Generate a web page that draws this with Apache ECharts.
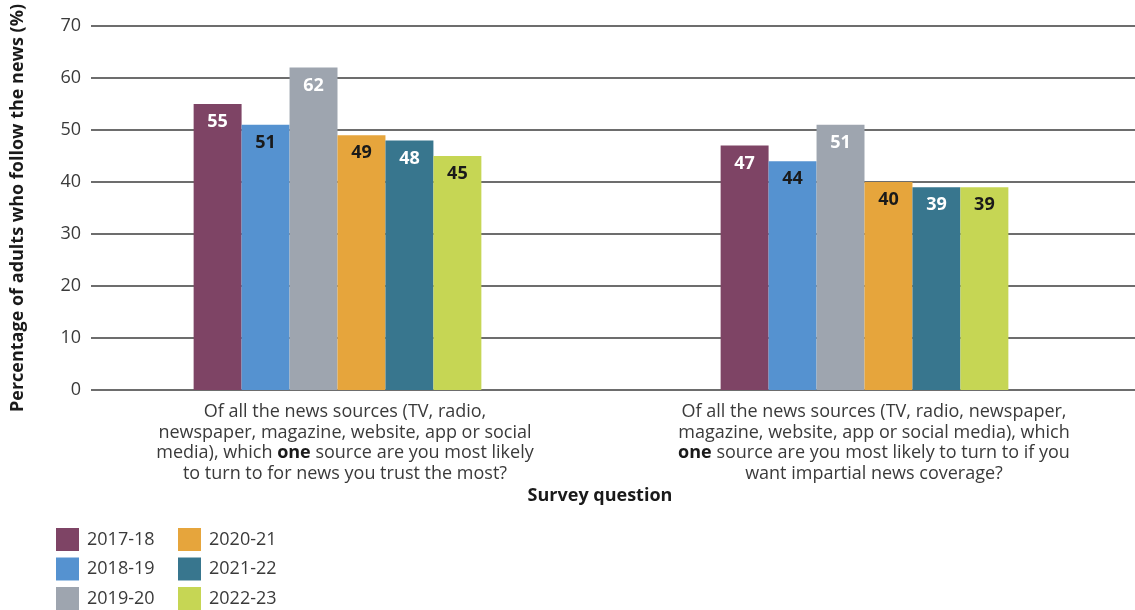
<!DOCTYPE html>
<html>
<head>
<meta charset="utf-8">
<script src="https://cdn.jsdelivr.net/npm/echarts@6/dist/echarts.min.js"></script>
<style>
  html, body { margin: 0; padding: 0; background: #fff; }
  #chart { width: 1135px; height: 610px; }
</style>
</head>
<body>
<div id="chart"></div>
<script>
// Survey questions (x categories), with "one" set in bold via rich text
const categories = [
  'Of all the news sources (TV, radio,\nnewspaper, magazine, website, app or social\nmedia), which {b|one} source are you most likely\nto turn to for news you trust the most?',
  'Of all the news sources (TV, radio, newspaper,\nmagazine, website, app or social media), which\n{b|one} source are you most likely to turn to if you\nwant impartial news coverage?'
];
const years = ['2017-18', '2018-19', '2019-20', '2020-21', '2021-22', '2022-23'];
const values2017 = [55, 47];
const values2018 = [51, 44];
const values2019 = [62, 51];
const values2020 = [49, 40];
const values2021 = [48, 39];
const values2022 = [45, 39];
const yTicks = [0, 10, 20, 30, 40, 50, 60, 70];

const seriesValues = [values2017, values2018, values2019, values2020, values2021, values2022];
const colors = ['#7E4465', '#5592D0', '#9EA5AF', '#E6A53C', '#38768E', '#C6D654'];
const labelColors = ['#ffffff', '#1a1a1a', '#ffffff', '#1a1a1a', '#ffffff', '#1a1a1a'];
const FONT = '"Open Sans", "Noto Sans", sans-serif';

const chart = echarts.init(document.getElementById('chart'), null, { renderer: 'canvas' });

const series = years.map((y, i) => ({
  name: y,
  type: 'bar',
  xAxisIndex: 1,
  yAxisIndex: 1,
  data: seriesValues[i],
  barGap: '0%',
  barCategoryGap: '45.4%',
  itemStyle: { color: colors[i] },
  label: {
    show: true,
    position: 'insideTop',
    distance: 9,
    color: labelColors[i],
    fontFamily: FONT,
    fontWeight: 'bold',
    fontSize: 18
  }
}));

const legendCommon = {
  orient: 'vertical',
  itemWidth: 23,
  itemHeight: 23,
  itemGap: 6.5,
  padding: 0,
  icon: 'rect',
  selectedMode: false,
  textStyle: { fontFamily: FONT, fontSize: 18, color: '#3a3a3a', padding: [0, 0, 0, 3] }
};

// first question label sits a little left of its category centre
const categoryData = categories.map((c, i) => ({
  value: c,
  textStyle: { padding: i === 0 ? [0, 14, 0, 0] : [0, 0, 0, 0] }
}));

chart.setOption({
  animation: false,
  textStyle: { fontFamily: FONT },
  grid: [
    { left: 91, right: 0, top: 26, bottom: 220 },
    { left: 74, right: 7, top: 26, bottom: 220 }
  ],
  legend: [
    Object.assign({ left: 56, top: 528, data: years.slice(0, 3) }, legendCommon),
    Object.assign({ left: 178, top: 528, data: years.slice(3) }, legendCommon)
  ],
  xAxis: [
    {
      type: 'category',
      gridIndex: 0,
      data: categoryData,
      axisLine: { show: false },
      axisTick: { show: false },
      axisLabel: {
        interval: 0,
        margin: 12,
        fontFamily: FONT,
        fontSize: 18,
        lineHeight: 20.5,
        color: '#3a3a3a',
        align: 'center',
        rich: {
          b: { fontFamily: FONT, fontSize: 18, fontWeight: 'bold', color: '#1a1a1a', lineHeight: 20.5 }
        }
      }
    },
    {
      type: 'category',
      gridIndex: 1,
      data: categories,
      axisLine: { show: false },
      axisTick: { show: false },
      axisLabel: { show: false }
    }
  ],
  yAxis: [
    {
      type: 'value',
      gridIndex: 0,
      min: yTicks[0],
      max: yTicks[yTicks.length - 1],
      interval: 10,
      name: 'Percentage of adults who follow the news (%)',
      nameLocation: 'middle',
      nameGap: 64,
      nameTextStyle: { fontFamily: FONT, fontSize: 18, fontWeight: 'bold', color: '#1a1a1a' },
      axisLine: { show: false },
      axisTick: { show: false },
      axisLabel: { margin: 10, fontFamily: FONT, fontSize: 18, color: '#3a3a3a' },
      splitLine: { lineStyle: { color: '#3d3d3d', width: 1.5 } }
    },
    {
      type: 'value',
      gridIndex: 1,
      min: yTicks[0],
      max: yTicks[yTicks.length - 1],
      interval: 10,
      show: false,
      splitLine: { show: false }
    }
  ],
  graphic: [
    {
      type: 'text',
      x: 600,
      y: 496,
      style: {
        text: 'Survey question',
        font: 'bold 18px ' + FONT,
        fill: '#1a1a1a',
        textAlign: 'center',
        textVerticalAlign: 'middle'
      }
    }
  ],
  series: series
});
</script>
</body>
</html>
